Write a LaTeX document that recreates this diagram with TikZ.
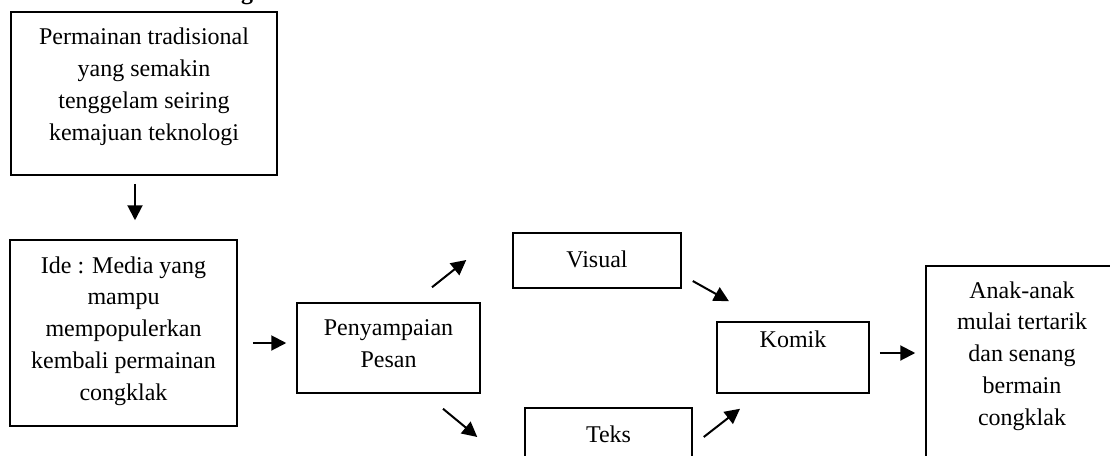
\documentclass[tikz,border=0pt]{standalone}
\usepackage{fontspec}
\setmainfont{Liberation Serif}
\usetikzlibrary{arrows.meta,calc}
\tikzset{
  box/.style={draw=black,line width=1.5pt,rectangle,inner sep=0pt},
  txt/.style={inner sep=0pt,align=center,anchor=base,font=\fontsize{24}{31.7}\selectfont},
  arr/.style={line width=2pt,-{Triangle[length=15pt,width=15pt]}}
}
\begin{document}
\begin{tikzpicture}[x=1pt,y=-1pt]
\clip (0,0) rectangle (1110,455);
\fill[white] (0,0) rectangle (1110,455);
% boxes
\node[box,minimum width=266pt,minimum height=163pt] (b1) at (144,93.5) {};
\node[box,minimum width=227pt,minimum height=186pt] (b2) at (123.5,333) {};
\node[box,minimum width=183pt,minimum height=90pt] (b3) at (388.5,348) {};
\node[box,minimum width=168pt,minimum height=55pt] (vis) at (597,260.5) {};
\node[box,minimum width=167pt,minimum height=55pt] (teks) at (608.5,435.5) {};
\node[box,minimum width=152pt,minimum height=71pt] (komik) at (793,357.5) {};
\node[box,minimum width=192pt,minimum height=204pt] (anak) at (1022,368) {};
% texts (anchored at the baseline of their last line)
\node[txt,font=\fontsize{24}{31.7}\selectfont\bfseries] (hd) at (247,-1) {g};
\node[txt] (t1) at (144,140) {Permainan tradisional\\yang semakin\\tenggelam seiring\\kemajuan teknologi};
\node[txt] (t2) at (123.5,400) {Ide : Media yang\\mampu\\mempopulerkan\\kembali permainan\\congklak};
\node[txt] (t3) at (388.5,367) {Penyampaian\\Pesan};
\node[txt] (t4) at (597,267) {Visual};
\node[txt] (t5) at (608.5,442) {Teks};
\node[txt] (t6) at (793,347) {Komik};
\node[txt] (t7) at (1022,425) {Anak-anak\\mulai tertarik\\dan senang\\bermain\\congklak};
% arrows
\draw[arr] ($(b1.south)+(-9,8)$) -- ($(b2.north)+(11.5,-19)$);
\draw[arr] ($(b2.east)+(15,10)$) -- ($(b3.west)+(-10,-5)$);
\draw[arr] ($(b3.north)+(43.5,-15)$) -- ($(vis.west)+(-46,-0.5)$);
\draw[arr] ($(b3.south)+(54.5,15)$) -- ($(teks.west)+(-47,1.5)$);
\draw[arr] ($(vis.east)+(11,20.5)$) -- ($(komik.north)+(-64,-20)$);
\draw[arr] ($(teks.east)+(11,1.5)$) -- ($(komik.south)+(-53,15)$);
\draw[arr] ($(komik.east)+(10,-4.5)$) -- ($(anak.west)+(-10,-15)$);
\end{tikzpicture}
\end{document}
